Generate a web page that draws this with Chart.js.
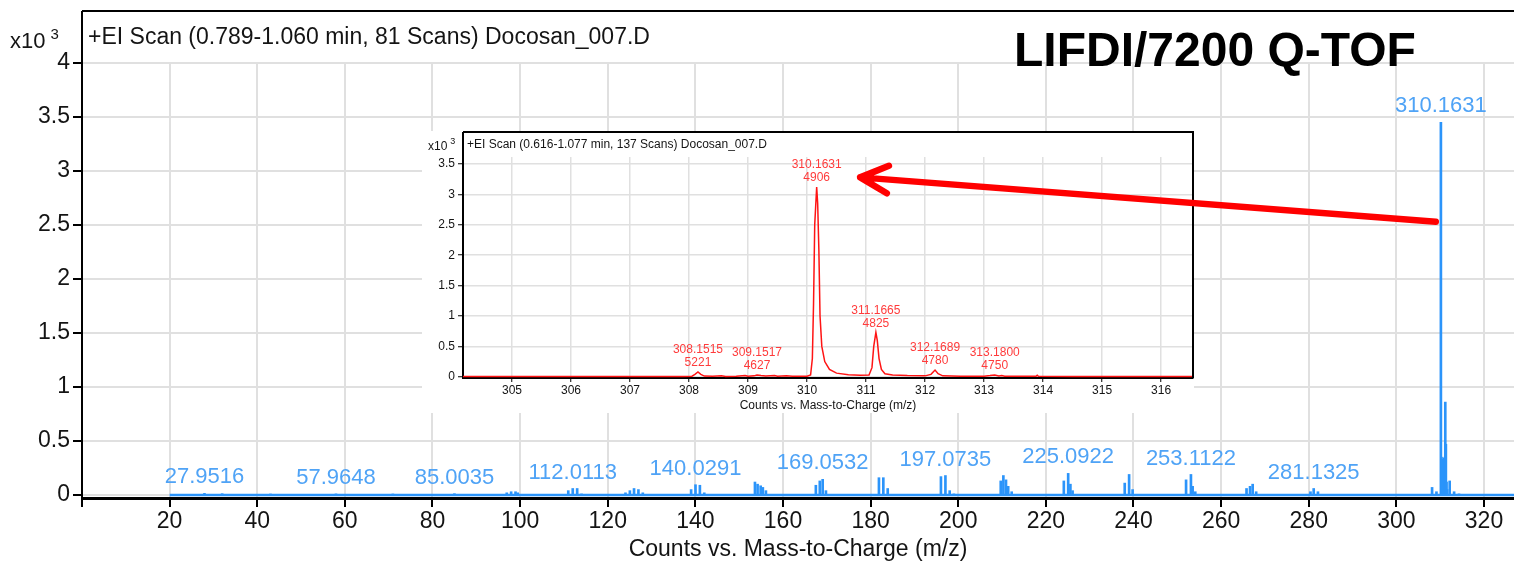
<!DOCTYPE html>
<html>
<head>
<meta charset="utf-8">
<script src="https://cdn.jsdelivr.net/npm/chart.js@4.4.1/dist/chart.umd.min.js"></script>
<style>
  html, body { margin: 0; padding: 0; background: #fff; overflow: hidden; }
  #wrap { position: relative; width: 1514px; height: 564px; }
  #wrap canvas { position: absolute; left: 0; top: 0; }
</style>
</head>
<body>
<div id="wrap">
  <canvas id="scan" width="1514" height="564"></canvas>
  <canvas id="zoom" width="1514" height="564"></canvas>
</div>
<script>
// ---- Full scan, centroided sticks (counts in units of 10^3) ----
const scanMz = [
  27.9516, 31.99, 43.02, 57.9648, 70.95, 85.0035,
  96.95, 97.95, 98.95, 99.45,
  110.99, 112.0113, 113.02, 114.02,
  124.05, 125.05, 126.0, 127.0, 128.0,
  139.03, 140.0291, 141.03, 142.03,
  153.6, 154.2, 154.9, 155.4, 156.1,
  167.5, 168.4, 169.0532, 169.8,
  181.9, 182.9, 183.9,
  196.05, 197.0735, 198.05, 199.0,
  209.7, 210.3, 210.9, 211.4, 212.2,
  224.1, 225.0922, 225.6, 226.1,
  238.0, 239.0, 239.8,
  252.0, 253.1122, 253.5, 254.1,
  265.8, 266.6, 267.2, 268.0,
  280.4, 281.1325, 282.1,
  308.15, 309.15, 310.1631, 310.3, 310.45, 310.6, 310.75, 310.9, 311.05,
  311.1665, 311.3, 311.45, 311.6, 312.17, 313.18, 314.3
];
const scanCounts = [
  0.015, 0.012, 0.004, 0.010, 0.008, 0.012,
  0.020, 0.030, 0.030, 0.020,
  0.040, 0.060, 0.060, 0.010,
  0.020, 0.040, 0.060, 0.050, 0.020,
  0.050, 0.095, 0.090, 0.020,
  0.120, 0.100, 0.085, 0.070, 0.040,
  0.090, 0.130, 0.145, 0.040,
  0.160, 0.160, 0.060,
  0.170, 0.180, 0.040, 0.010,
  0.130, 0.180, 0.140, 0.080, 0.030,
  0.130, 0.200, 0.100, 0.040,
  0.110, 0.190, 0.050,
  0.140, 0.190, 0.080, 0.030,
  0.060, 0.080, 0.100, 0.030,
  0.030, 0.060, 0.030,
  0.070, 0.030, 3.450, 0.350, 0.330, 0.300, 0.330, 0.340, 0.350,
  0.860, 0.470, 0.120, 0.050, 0.130, 0.030, 0.010
];
const scanLabelMz = [27.9516, 57.9648, 85.0035, 112.0113, 140.0291, 169.0532,
                     197.0735, 225.0922, 253.1122, 281.1325, 310.1631];
const scanBaseline = [20, 326.85];           // m/z span of the acquired range
const scanXTicks = [0, 20, 40, 60, 80, 100, 120, 140, 160, 180, 200, 220, 240, 260, 280, 300, 320];
const scanYTicks = [0, 0.5, 1, 1.5, 2, 2.5, 3, 3.5, 4];

// ---- Expanded profile around the molecular ion (counts in units of 10^3) ----
const zoomMz = [
  304.17, 305.0, 306.0, 307.0, 307.9, 308.05, 308.1, 308.1515, 308.2, 308.26,
  308.4, 308.55, 308.62, 308.8, 308.95, 309.0, 309.1, 309.1517, 309.22, 309.3,
  309.45, 309.5, 309.65, 309.75, 309.9, 310.0, 310.06, 310.09, 310.11, 310.13,
  310.1631, 310.18, 310.2, 310.22, 310.25, 310.3, 310.38, 310.5, 310.7, 310.9,
  311.05, 311.1, 311.13, 311.1665, 311.19, 311.22, 311.26, 311.32, 311.45, 311.7,
  312.0, 312.1, 312.1689, 312.22, 312.3, 312.6, 313.0, 313.1, 313.18, 313.25,
  313.3, 313.35, 313.88, 313.9, 313.92, 314.5, 315.5, 316.54
];
const zoomCounts = [
  0.005, 0.006, 0.005, 0.006, 0.006, 0.010, 0.040, 0.080, 0.040, 0.012,
  0.008, 0.015, 0.006, 0.010, 0.020, 0.008, 0.015, 0.030, 0.020, 0.012,
  0.020, 0.008, 0.018, 0.008, 0.010, 0.010, 0.030, 0.300, 1.200, 2.500,
  3.120, 2.850, 2.100, 1.000, 0.500, 0.250, 0.120, 0.060, 0.035, 0.025,
  0.030, 0.150, 0.500, 0.730, 0.600, 0.300, 0.120, 0.050, 0.030, 0.020,
  0.015, 0.040, 0.110, 0.050, 0.015, 0.010, 0.010, 0.020, 0.030, 0.012,
  0.020, 0.008, 0.008, 0.025, 0.008, 0.006, 0.006, 0.006
];
const zoomLabelMz  = [308.1515, 309.1517, 310.1631, 311.1665, 312.1689, 313.1800];
const zoomLabelRes = [5221, 4627, 4906, 4825, 4780, 4750];
const zoomXTicks = [305, 306, 307, 308, 309, 310, 311, 312, 313, 314, 315, 316];
const zoomYTicks = [0, 0.5, 1, 1.5, 2, 2.5, 3, 3.5];

// ---- Styling ----
const FONT = "'Liberation Sans', Arial, sans-serif";
const BLUE = '#2b94fa';
const BLUE_TEXT = '#4fa3f6';
const RED = '#ff1414';
const RED_TEXT = '#ff3b3b';
const GRID = '#e0e0e0';
const INK = '#141414';

// arrow from the main peak (scan coordinates) to the expanded peak (zoom coordinates)
const ARROW_FROM = [309.0, 2.53];
const ARROW_TO = [310.9, 3.28];

function fixedTicks(list) {
  return axis => { axis.ticks = list.map(v => ({ value: v })); };
}

// ---------- Full-scan spectrum ----------
const scanPlugin = {
  id: 'scanDecor',
  beforeDraw(chart) {
    const c = chart.ctx;
    c.save();
    c.fillStyle = '#fff';
    c.fillRect(0, 0, chart.width, chart.height);
    c.restore();
  },
  afterDraw(chart) {
    const c = chart.ctx;
    const area = chart.chartArea;
    const xs = chart.scales.x, ys = chart.scales.y;
    c.save();
    // frame: top edge and the axis line continued up to it
    c.strokeStyle = '#000';
    c.lineWidth = 2;
    c.beginPath();
    c.moveTo(area.left, 11); c.lineTo(chart.width, 11);
    c.moveTo(area.left, 11); c.lineTo(area.left, area.top);
    c.stroke();

    c.fillStyle = INK;
    c.textBaseline = 'middle';
    c.textAlign = 'left';
    c.font = '23px ' + FONT;
    c.fillText('+EI Scan (0.789-1.060 min, 81 Scans) Docosan_007.D', 88, 38);
    c.font = '22px ' + FONT;
    c.fillText('x10', 10, 42);
    const w = c.measureText('x10').width;
    c.font = '15px ' + FONT;
    c.fillText('3', 10 + w + 5, 35);

    c.font = 'bold 48px ' + FONT;
    c.fillStyle = '#000';
    c.fillText('LIFDI/7200 Q-TOF', 1014, 53);

    // peak annotations
    c.font = '22px ' + FONT;
    c.fillStyle = BLUE_TEXT;
    c.textAlign = 'center';
    scanLabelMz.forEach(m => {
      const i = scanMz.indexOf(m);
      const px = xs.getPixelForValue(m);
      const py = ys.getPixelForValue(scanCounts[i]) - 16;
      c.fillText(m.toFixed(4), px, py);
    });

    c.fillStyle = INK;
    c.font = '23px ' + FONT;
    c.fillText('Counts vs. Mass-to-Charge (m/z)', (area.left + area.right) / 2, 550);
    c.restore();
  }
};

const scanChart = new Chart(document.getElementById('scan'), {
  type: 'line',
  data: {
    datasets: [
      {
        type: 'line',
        data: scanBaseline.map(m => ({ x: m, y: 0 })),
        borderColor: BLUE, borderWidth: 2.5, pointRadius: 0, order: 2
      },
      {
        type: 'bar',
        data: scanMz.map((m, i) => ({ x: m, y: scanCounts[i] })),
        backgroundColor: BLUE, borderWidth: 0, barThickness: 2, order: 1
      }
    ]
  },
  options: {
    responsive: false, animation: false, devicePixelRatio: 1,
    layout: { padding: { top: 63, left: 0, right: 0, bottom: 0 } },
    plugins: { legend: { display: false }, tooltip: { enabled: false } },
    scales: {
      x: {
        type: 'linear', min: 0, max: 326.85, offset: false,
        afterBuildTicks: fixedTicks(scanXTicks),
        afterFit(a) { a.height = 66; },
        ticks: {
          callback: v => (v === 0 ? '' : String(v)),
          font: { family: FONT, size: 23 }, color: INK, padding: 1,
          maxRotation: 0, autoSkip: false
        },
        grid: { color: GRID, lineWidth: 2, tickColor: '#000', tickLength: 9, tickWidth: 2, offset: false },
        border: { color: '#000', width: 3 }
      },
      y: {
        type: 'linear', min: -0.028, max: 4,
        afterBuildTicks: fixedTicks(scanYTicks),
        afterFit(a) { a.width = 82; },
        ticks: {
          callback: v => String(v),
          font: { family: FONT, size: 23 }, color: INK, padding: 3
        },
        grid: { color: GRID, lineWidth: 2, tickColor: '#000', tickLength: 9, tickWidth: 2 },
        border: { color: '#000', width: 2 }
      }
    }
  },
  plugins: [scanPlugin]
});

// ---------- Expanded view (overlay) ----------
const zoomPlugin = {
  id: 'zoomDecor',
  beforeDraw(chart) {
    const c = chart.ctx;
    c.save();
    c.fillStyle = '#fff';
    c.fillRect(422, 131, 772, 282);
    c.restore();
  },
  afterDraw(chart) {
    const c = chart.ctx;
    const area = chart.chartArea;
    const xs = chart.scales.x, ys = chart.scales.y;
    c.save();
    c.strokeStyle = '#000';
    c.lineWidth = 2;
    c.beginPath();
    c.moveTo(area.left, 132); c.lineTo(area.right, 132);
    c.lineTo(area.right, area.bottom);
    c.moveTo(area.left, 132); c.lineTo(area.left, area.top);
    c.stroke();

    c.fillStyle = INK;
    c.textBaseline = 'middle';
    c.textAlign = 'left';
    c.font = '12px ' + FONT;
    c.fillText('+EI Scan (0.616-1.077 min, 137 Scans) Docosan_007.D', area.left + 4, 145);
    c.fillText('x10', 428, 147);
    const w = c.measureText('x10').width;
    c.font = '9px ' + FONT;
    c.fillText('3', 428 + w + 3, 142);

    // peak annotations: m/z over resolution
    c.font = '12px ' + FONT;
    c.fillStyle = RED_TEXT;
    c.textAlign = 'center';
    zoomLabelMz.forEach((m, k) => {
      const i = zoomMz.indexOf(m);
      const px = xs.getPixelForValue(m);
      const py = ys.getPixelForValue(zoomCounts[i]);
      c.fillText(m.toFixed(4), px, py - 22);
      c.fillText(String(zoomLabelRes[k]), px, py - 9);
    });

    c.fillStyle = INK;
    c.fillText('Counts vs. Mass-to-Charge (m/z)', (area.left + area.right) / 2, 406);

    // arrow linking the main peak to its expanded view
    const sx = scanChart.scales.x, sy = scanChart.scales.y;
    const tx = sx.getPixelForValue(ARROW_FROM[0]), ty = sy.getPixelForValue(ARROW_FROM[1]);
    const hx = xs.getPixelForValue(ARROW_TO[0]), hy = ys.getPixelForValue(ARROW_TO[1]);
    const ang = Math.atan2(ty - hy, tx - hx);
    const len = 31, spread = 0.46;
    c.strokeStyle = '#ff0000';
    c.lineWidth = 6.5;
    c.lineCap = 'round';
    c.lineJoin = 'round';
    c.beginPath();
    c.moveTo(tx, ty); c.lineTo(hx, hy);
    c.moveTo(hx + len * Math.cos(ang - spread), hy + len * Math.sin(ang - spread));
    c.lineTo(hx, hy);
    c.lineTo(hx + len * Math.cos(ang + spread), hy + len * Math.sin(ang + spread));
    c.stroke();
    c.restore();
  }
};

const zoomChart = new Chart(document.getElementById('zoom'), {
  type: 'line',
  data: {
    datasets: [{
      data: zoomMz.map((m, i) => ({ x: m, y: zoomCounts[i] })),
      borderColor: RED, borderWidth: 1.5, pointRadius: 0, tension: 0
    }]
  },
  options: {
    responsive: false, animation: false, devicePixelRatio: 1,
    layout: { padding: { left: 422, right: 321, top: 157, bottom: 152 } },
    plugins: { legend: { display: false }, tooltip: { enabled: false } },
    scales: {
      x: {
        type: 'linear', min: 304.17, max: 316.54,
        afterBuildTicks: fixedTicks(zoomXTicks),
        afterFit(a) { a.height = 34; },
        ticks: {
          callback: v => String(v),
          font: { family: FONT, size: 12 }, color: INK, padding: 1,
          maxRotation: 0, autoSkip: false
        },
        grid: { color: GRID, lineWidth: 1.5, tickColor: '#000', tickLength: 4, tickWidth: 1 },
        border: { color: '#000', width: 2 }
      },
      y: {
        type: 'linear', min: -0.02, max: 3.615,
        afterBuildTicks: fixedTicks(zoomYTicks),
        afterFit(a) { a.width = 41; },
        ticks: {
          callback: v => String(v),
          font: { family: FONT, size: 12 }, color: INK, padding: 3
        },
        grid: { color: GRID, lineWidth: 1.5, tickColor: '#000', tickLength: 5, tickWidth: 1 },
        border: { color: '#000', width: 2 }
      }
    }
  },
  plugins: [zoomPlugin]
});
</script>
</body>
</html>
